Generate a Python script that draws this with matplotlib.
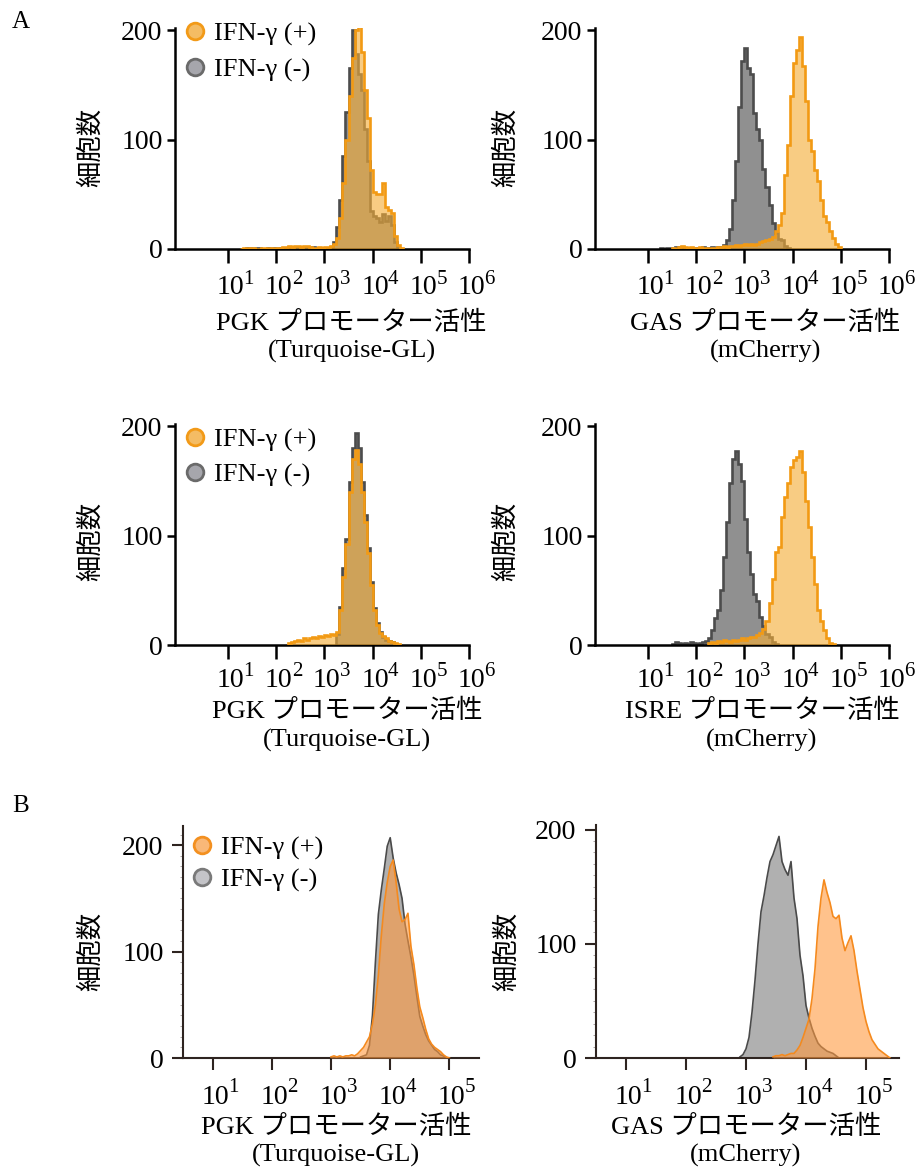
import matplotlib
matplotlib.use('Agg')
import matplotlib.pyplot as plt
from matplotlib.lines import Line2D
from matplotlib.ticker import NullLocator, MultipleLocator
import numpy as np

W, H = 922, 1171

plt.rcParams['font.family'] = ['Liberation Serif', 'Noto Sans CJK JP']

# ---------------------------------------------------------------
# datos: conteos por canal (log10 del inicio + conteos)
# ---------------------------------------------------------------
STEP_A = 1 / 16   # ancho de canal en decadas (panel A)
STEP_B = 0.05     # paso de muestreo en decadas (panel B)

# A - PGK (fila 1)
a1_neg_start = 1.25
a1_neg = [0, 0, 1, 1, 0, 1, 1, 0, 0, 1, 0, 1, 0, 1, 1, 1, 2, 1, 2, 2, 1, 2, 1, 1, 2, 1, 1, 1, 0, 1,
          2, 6, 20, 45, 85, 125, 165, 200, 178, 160, 145, 110, 80, 35, 30, 28, 25, 32, 26, 30, 22, 6, 1]
a1_pos_start = 1.25
a1_pos = [0, 1, 0, 1, 1, 0, 0, 1, 1, 0, 1, 0, 1, 1, 2, 2, 3, 2, 3, 3, 2, 3, 3, 2, 1, 1, 2, 1, 2, 2,
          3, 5, 10, 28, 60, 100, 140, 175, 200, 212, 180, 145, 120, 72, 52, 50, 50, 60, 38, 36, 33, 12, 4, 1]

# A - GAS (fila 1)
a2_neg_start = 1.25
a2_neg = [1, 0, 1, 1, 0, 2, 1, 1, 0, 1, 1, 0, 1, 1, 2, 1, 1, 2, 1, 2,
          2, 4, 8, 18, 45, 80, 130, 172, 184, 165, 160, 124, 110, 100, 73, 57, 40, 24, 15, 9, 8, 3, 1]
a2_pos_start = 1.5
a2_pos = [1, 0, 2, 3, 2, 1, 2, 1, 1, 2, 1, 1, 0, 1, 1, 2, 2, 3, 2, 3, 3, 4, 3, 4, 5, 4, 5, 4,
          5, 6, 7, 8, 9, 11, 16, 22, 33, 68, 95, 140, 170, 182, 194, 167, 135, 100, 90, 72, 62, 45,
          30, 25, 16, 10, 5, 2]

# A - PGK (fila 2)
a3_neg_start = 3.25
a3_neg = [10, 35, 70, 97, 149, 180, 194, 180, 149, 119, 89, 58, 34, 20, 12, 7, 5, 4, 3, 1]
a3_pos_start = 2.25
a3_pos = [2, 3, 4, 5, 4, 6, 5, 6, 7, 6, 8, 7, 9, 8, 10, 9,
          12, 32, 62, 92, 140, 170, 178, 165, 140, 112, 84, 55, 32, 18, 11, 8, 6, 4, 3, 2, 1]

# A - ISRE (fila 2)
a4_neg_start = 1.5
a4_neg = [1, 3, 2, 1, 2, 1, 3, 2, 1, 2, 3, 4,
          6, 14, 25, 32, 50, 80, 112, 148, 170, 177, 165, 150, 115, 85, 65, 47, 40, 26, 17, 10, 7, 3, 1]
a4_pos_start = 2.25
a4_pos = [2, 3, 2, 4, 3, 5, 4, 3, 5, 4, 5, 6, 5, 6, 7, 7,
          9, 11, 15, 22, 38, 60, 85, 90, 117, 135, 148, 163, 169, 172, 177, 158, 132, 108, 80, 56,
          32, 22, 14, 6, 2, 1]

# B - PGK
b1_neg_start = 3.5
b1_neg = [1, 2, 3, 12, 40, 90, 135, 158, 178, 199, 207, 188, 174, 163, 150, 126, 110, 95, 78, 58,
          39, 30, 22, 16, 12, 8, 6, 3, 2, 0]
b1_pos_start = 3.0
b1_pos = [1, 2, 1, 2, 1, 2, 2, 3, 2, 4, 7, 10, 15, 20, 32, 50, 78, 115, 145, 165, 180, 186, 165,
          140, 128, 130, 136, 105, 88, 66, 48, 38, 27, 18, 13, 10, 8, 6, 3, 1, 0]

# B - GAS
b2_neg_start = 2.9
b2_neg = [1, 3, 8, 18, 40, 68, 100, 128, 142, 158, 172, 178, 186, 194, 172, 165, 160, 172, 140,
          122, 90, 72, 46, 35, 26, 19, 13, 10, 8, 6, 5, 4, 2, 0]
b2_pos_start = 3.45
b2_pos = [1, 2, 2, 3, 2, 3, 4, 4, 7, 11, 18, 26, 34, 52, 78, 115, 140, 156, 145, 136, 124, 122,
          125, 105, 94, 101, 107, 94, 76, 60, 44, 32, 23, 16, 12, 8, 6, 4, 2, 0]

yticks = [0, 100, 200]
decades_a = [1, 2, 3, 4, 5, 6]
decades_b = [1, 2, 3, 4, 5]
xlabels_a = ['PGK プロモーター活性', 'GAS プロモーター活性', 'PGK プロモーター活性', 'ISRE プロモーター活性']
xlabels_b = ['PGK プロモーター活性', 'GAS プロモーター活性']
sublabels_a = ['(Turquoise-GL)', '(mCherry)', '(Turquoise-GL)', '(mCherry)']
sublabels_b = ['(Turquoise-GL)', '(mCherry)']
legend_labels = ['IFN-γ (+)', 'IFN-γ (-)']

# colores
A_ORANGE_EDGE = '#F29A14'
A_ORANGE_FILL = '#F5AE38'
A_GRAY_EDGE = '#4C4C4C'
A_GRAY_FILL = '#909090'
B_ORANGE_EDGE = '#F58A1E'
B_ORANGE_FILL = '#FF9A40'
B_GRAY_EDGE = '#4A4A4A'
B_GRAY_FILL = '#B0B0B0'
B_SPINE = '#2E2420'

FS = 19
PX = 0.72  # puntos por pixel (dpi 100)

fig = plt.figure(figsize=(W / 100, H / 100), dpi=100)


def px_axes(left, top, right, bottom):
    return fig.add_axes([left / W, 1 - bottom / H, (right - left) / W, (bottom - top) / H])


def px_text(x, y, s, **kw):
    fig.text(x / W, 1 - y / H, s, ha='center', va='center', **kw)


def hist_a(ax, start, counts, fill, edge, alpha, z):
    counts = np.asarray(counts, float)
    edges = 10 ** (start + STEP_A * np.arange(len(counts) + 1))
    ax.stairs(counts, edges, fill=True, color=fill, alpha=alpha, lw=0, zorder=z)
    ax.stairs(counts, edges, color=edge, lw=1.9, zorder=z + 0.5)


def curve_b(ax, start, counts, fill, edge, alpha, z):
    counts = np.asarray(counts, float)
    x = 10 ** (start + STEP_B * np.arange(len(counts)))
    ax.fill_between(x, 0, counts, color=fill, alpha=alpha, lw=0, zorder=z)
    ax.plot(x, counts, color=edge, lw=1.2, zorder=z + 0.5)


def log_labels(ax, ks, base_dy, exp_dx, exp_up, fs_base, fs_exp):
    """etiquetas 10^k con exponente grande (como en la figura original)"""
    ax.set_xticklabels([])
    for k in ks:
        ax.annotate('10', xy=(10 ** k, 0), xycoords=('data', 'axes fraction'),
                    xytext=(2.5 * PX, -base_dy * PX), textcoords='offset points',
                    ha='center', va='center', fontsize=fs_base, family='Liberation Serif',
                    annotation_clip=False)
        ax.annotate(str(k), xy=(10 ** k, 0), xycoords=('data', 'axes fraction'),
                    xytext=(exp_dx * PX, -(base_dy - exp_up) * PX), textcoords='offset points',
                    ha='left', va='center', fontsize=fs_exp, family='Liberation Serif',
                    annotation_clip=False)


def style_axes(ax, xmin, xmax, ymax, ks, panel_b=False):
    ax.set_xscale('log')
    ax.set_xlim(10 ** xmin, 10 ** xmax)
    ax.set_ylim(0, ymax)
    for s in ['top', 'right']:
        ax.spines[s].set_visible(False)
    col = B_SPINE if panel_b else 'black'
    lw = 1.5 if panel_b else 1.8
    for s in ['left', 'bottom']:
        ax.spines[s].set_linewidth(lw)
        ax.spines[s].set_color(col)
    ax.set_xticks([10 ** k for k in ks])
    ax.xaxis.set_minor_locator(NullLocator())
    ax.set_yticks(yticks)
    ax.set_yticklabels([str(v) for v in yticks], family='Liberation Serif')
    if panel_b:
        ax.yaxis.set_minor_locator(MultipleLocator(10))
        ax.tick_params(axis='y', which='minor', length=2, width=0.5, color='#8a8080')
        ax.tick_params(axis='x', which='major', length=8.5, width=lw, color=col)
        ax.tick_params(axis='y', which='major', length=8, width=lw, pad=6, color=col, labelsize=20)
    else:
        ax.tick_params(axis='x', which='major', length=10, width=lw)
        ax.tick_params(axis='y', which='major', length=6, width=lw, pad=3, labelsize=20)


def add_legend(ax, anchor, spacing, panel_b=False):
    if panel_b:
        oc, oe, gc, ge = '#F9B878', '#F39020', '#C4C4C8', '#7A7A7A'
    else:
        oc, oe, gc, ge = '#F4BC64', '#F29A18', '#A6A6AC', '#6A6A6A'
    handles = [Line2D([], [], ls='', marker='o', ms=12, mfc=oc, mec=oe, mew=2),
               Line2D([], [], ls='', marker='o', ms=12, mfc=gc, mec=ge, mew=2)]
    ax.legend(handles, legend_labels, loc='upper left',
              bbox_to_anchor=(anchor[0] / W, 1 - anchor[1] / H), bbox_transform=fig.transFigure,
              frameon=False, fontsize=FS, handlelength=1.0, handletextpad=0.2,
              borderpad=0, borderaxespad=0, labelspacing=spacing)


# ---------------- panel A ----------------
ax1 = px_axes(175, 28, 469, 249)
ax2 = px_axes(595, 28, 889, 249)
ax3 = px_axes(175, 424, 469, 645)
ax4 = px_axes(595, 424, 889, 645)

series_a = [
    (ax1, a1_neg_start, a1_neg, a1_pos_start, a1_pos, 39),
    (ax2, a2_neg_start, a2_neg, a2_pos_start, a2_pos, 39),
    (ax3, a3_neg_start, a3_neg, a3_pos_start, a3_pos, 35),
    (ax4, a4_neg_start, a4_neg, a4_pos_start, a4_pos, 35),
]
for ax, ns, neg, ps, pos, dy in series_a:
    hist_a(ax, ns, neg, A_GRAY_FILL, A_GRAY_EDGE, 1.0, 1)
    hist_a(ax, ps, pos, A_ORANGE_FILL, A_ORANGE_EDGE, 0.62, 3)
    style_axes(ax, -0.1, 6, 202, decades_a)
    log_labels(ax, decades_a, dy, 15.5, 9, 20, 15)

add_legend(ax1, (182, 22), 0.45)
add_legend(ax3, (182, 428), 0.42)

# ---------------- panel B ----------------
bx1 = px_axes(183, 826, 479, 1058)
bx2 = px_axes(596, 825, 899, 1058)
curve_b(bx1, b1_neg_start, b1_neg, B_GRAY_FILL, B_GRAY_EDGE, 1.0, 1)
curve_b(bx1, b1_pos_start, b1_pos, B_ORANGE_FILL, B_ORANGE_EDGE, 0.6, 3)
curve_b(bx2, b2_neg_start, b2_neg, B_GRAY_FILL, B_GRAY_EDGE, 1.0, 1)
curve_b(bx2, b2_pos_start, b2_pos, B_ORANGE_FILL, B_ORANGE_EDGE, 0.6, 3)
style_axes(bx1, 0.5, 5.5, 218, decades_b, panel_b=True)
style_axes(bx2, 0.5, 5.55, 204, decades_b, panel_b=True)
for bx in (bx1, bx2):
    log_labels(bx, decades_b, 39, 15.5, 9, 20, 15)
add_legend(bx1, (189, 836), 0.3, panel_b=True)

# ---------------- textos ----------------
lab_kw = dict(fontsize=FS, family=['Liberation Serif', 'Noto Sans CJK JP'])
ylab_kw = dict(fontsize=FS, family='Noto Sans CJK JP', rotation=90)

# etiquetas eje x (dos lineas)
pos_a = [(351, 323, 352, 351), (765, 323, 766, 351), (347, 711, 347, 740), (762, 711, 762, 740)]
for (x1, y1, x2, y2), t1, t2 in zip(pos_a, xlabels_a, sublabels_a):
    px_text(x1, y1, t1, **lab_kw)
    px_text(x2, y2, t2, **lab_kw)
pos_b = [(336, 1127, 336, 1155), (746, 1127, 746, 1155)]
for (x1, y1, x2, y2), t1, t2 in zip(pos_b, xlabels_b, sublabels_b):
    px_text(x1, y1, t1, **lab_kw)
    px_text(x2, y2, t2, **lab_kw)

# etiquetas eje y
for x, y in [(90, 147), (505, 147), (90, 541), (505, 541), (90, 951), (506, 951)]:
    px_text(x, y, '細胞数', **ylab_kw)

px_text(21, 22, 'A', fontsize=18, family='Liberation Serif')
px_text(21, 806, 'B', fontsize=18, family='Liberation Serif')

fig.savefig('out.png', dpi=100)
